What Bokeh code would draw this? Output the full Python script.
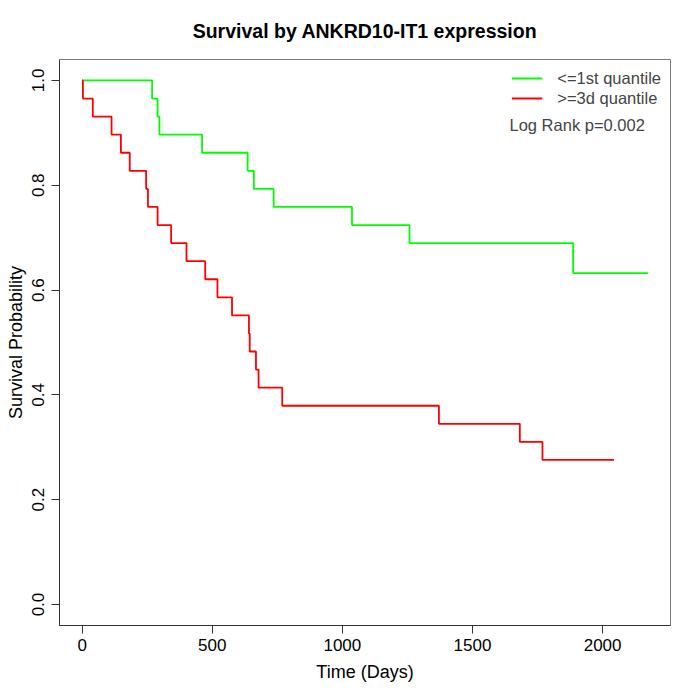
from bokeh.plotting import figure
from bokeh.models import Range1d, FixedTicker, PrintfTickFormatter, Legend, LegendItem, Label
from bokeh.embed import file_html
from bokeh.resources import INLINE

# ---- data ----
green_time = [0, 269, 290, 297, 461, 636, 660, 736, 1037, 1258, 1887, 2174]
green_surv = [1.0, 0.9655, 0.9310, 0.8966, 0.8621, 0.8276, 0.7931, 0.7586, 0.7241, 0.6897, 0.6322, 0.6322]

red_time = [0, 3, 41, 113, 149, 183, 246, 253, 290, 342, 401, 473, 520, 576, 641, 644, 668, 678, 769, 1371, 1682, 1769, 2044]
red_surv = [1.0, 0.9655, 0.9310, 0.8966, 0.8621, 0.8276, 0.7931, 0.7586, 0.7241, 0.6897, 0.6552, 0.6207,
            0.5862, 0.5517, 0.5172, 0.4828, 0.4483, 0.4138, 0.3793, 0.3448, 0.3103, 0.2759, 0.2759]

x_ticks = [0, 500, 1000, 1500, 2000]
y_ticks = [0.0, 0.2, 0.4, 0.6, 0.8, 1.0]
legend_labels = ["<=1st quantile", ">=3d quantile"]
title_text = "Survival by ANKRD10-IT1 expression"
pvalue_text = "Log Rank p=0.002"

FONT = "Liberation Sans"

xmax = max(max(green_time), max(red_time))
xmin = 0
pad = 0.04 * (xmax - xmin)

p = figure(width=684, height=684, output_backend="svg", toolbar_location=None,
           x_range=Range1d(xmin - pad, xmax + pad), y_range=Range1d(-0.04, 1.04),
           min_border_left=59, min_border_right=14, min_border_top=59, min_border_bottom=58)

p.title.text = title_text
p.title.text_font = FONT
p.title.text_font_size = "19.5px"
p.title.text_font_style = "bold"
p.title.text_color = "black"
p.title.align = "center"
p.title.standoff = 35

p.grid.visible = False
p.outline_line_color = "#7a7a7a"
p.outline_line_width = 1
p.background_fill_color = "white"
p.border_fill_color = "white"

for ax in (p.xaxis[0], p.yaxis[0]):
    ax.axis_line_color = "#333333"
    ax.major_tick_line_color = "#333333"
    ax.major_tick_out = 8
    ax.major_tick_in = 0
    ax.minor_tick_line_color = None
    ax.major_label_text_font = FONT
    ax.major_label_text_font_size = "17px"
    ax.major_label_text_color = "black"
    ax.axis_label_text_font = FONT
    ax.axis_label_text_font_size = "18px"
    ax.axis_label_text_font_style = "normal"
    ax.axis_label_text_color = "black"

p.xaxis.major_label_standoff = 5
p.yaxis.major_label_standoff = 7
p.xaxis.ticker = FixedTicker(ticks=x_ticks)
p.yaxis.ticker = FixedTicker(ticks=y_ticks)
p.yaxis.formatter = PrintfTickFormatter(format="%.1f")
p.yaxis.major_label_orientation = "vertical"
p.xaxis.axis_label = "Time (Days)"
p.yaxis.axis_label = "Survival Probability"
p.xaxis.axis_label_standoff = 8
p.yaxis.axis_label_standoff = 4

g = p.step(green_time, green_surv, mode="after", line_color="#00ff00", line_width=1.8)
r = p.step(red_time, red_surv, mode="after", line_color="#ff0000", line_width=1.8)

legend = Legend(items=[LegendItem(label=legend_labels[0], renderers=[g]),
                       LegendItem(label=legend_labels[1], renderers=[r])],
                location="top_right", border_line_color=None, background_fill_alpha=0,
                padding=0, margin=9, spacing=0, glyph_width=31, glyph_height=20,
                label_height=20, label_standoff=15,
                label_text_font=FONT, label_text_font_size="16.5px")
p.add_layout(legend)

lab = Label(x=450, y=501, x_units="screen", y_units="screen", text=pvalue_text,
            text_font=FONT, text_font_size="16.5px", text_baseline="middle", text_align="left")
p.add_layout(lab)

open("out.html", "w").write(file_html(p, INLINE))
